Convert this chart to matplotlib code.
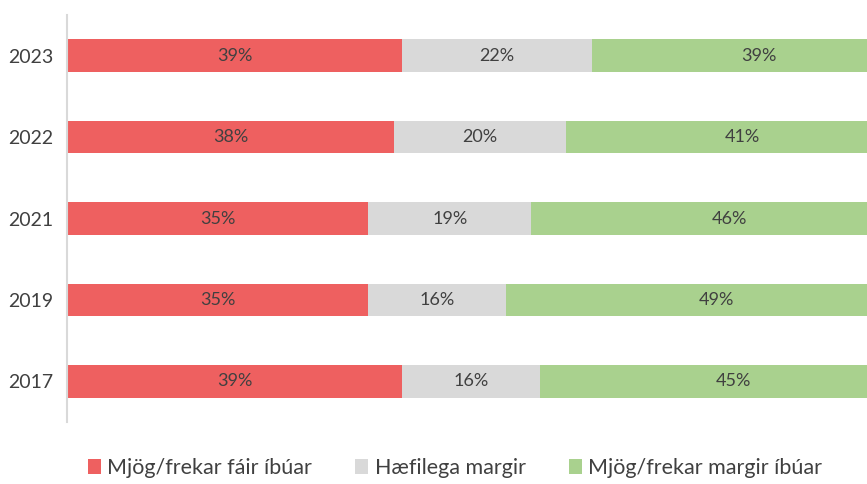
import matplotlib.pyplot as plt
from matplotlib.patches import Patch
import numpy as np

years = ['2023', '2022', '2021', '2019', '2017']
few = [39, 38, 35, 35, 39]
moderate = [22, 20, 19, 16, 16]
many = [39, 41, 46, 49, 45]
series_names = ['Mjög/frekar fáir íbúar', 'Hæfilega margir', 'Mjög/frekar margir íbúar']
colors = ['#EE6060', '#D9D9D9', '#A9D18E']
text_color = '#404040'

plt.rcParams['font.family'] = ['Lato', 'DejaVu Sans']

fig = plt.figure(figsize=(8.67, 4.84), dpi=100)
# x-axis runs past the right edge of the figure, as in the reference
ax = fig.add_axes([67 / 867, 62 / 484, 860 / 867, 407 / 484])

y = np.arange(len(years))
left = np.zeros(len(years))
for vals, col in zip([few, moderate, many], colors):
    vals = np.array(vals, dtype=float)
    ax.barh(y, vals, left=left, height=0.4, color=col)
    for yi, l, v in zip(y, left, vals):
        ax.text(l + v / 2, yi, f'{int(v)}%', ha='center', va='center',
                fontsize=13, color=text_color)
    left += vals

ax.set_xlim(0, 100)
ax.set_ylim(len(years) - 0.5, -0.5)
ax.set_yticks(y)
ax.set_yticklabels(years, fontsize=14, color=text_color)
ax.tick_params(axis='y', length=0, pad=10)
ax.set_xticks([])
for s in ['top', 'right', 'bottom']:
    ax.spines[s].set_visible(False)
ax.spines['left'].set_color('#D9D9D9')
ax.spines['left'].set_linewidth(1.5)

handles = [Patch(facecolor=c, edgecolor='none') for c in colors]
fig.legend(handles, series_names, loc='center', bbox_to_anchor=(455 / 867, 1 - 468 / 484),
           ncol=3, frameon=False, fontsize=15.5, handlelength=0.6, handleheight=0.7,
           handletextpad=0.3, columnspacing=2.0, labelcolor=text_color)

fig.savefig('out.png', dpi=100)
